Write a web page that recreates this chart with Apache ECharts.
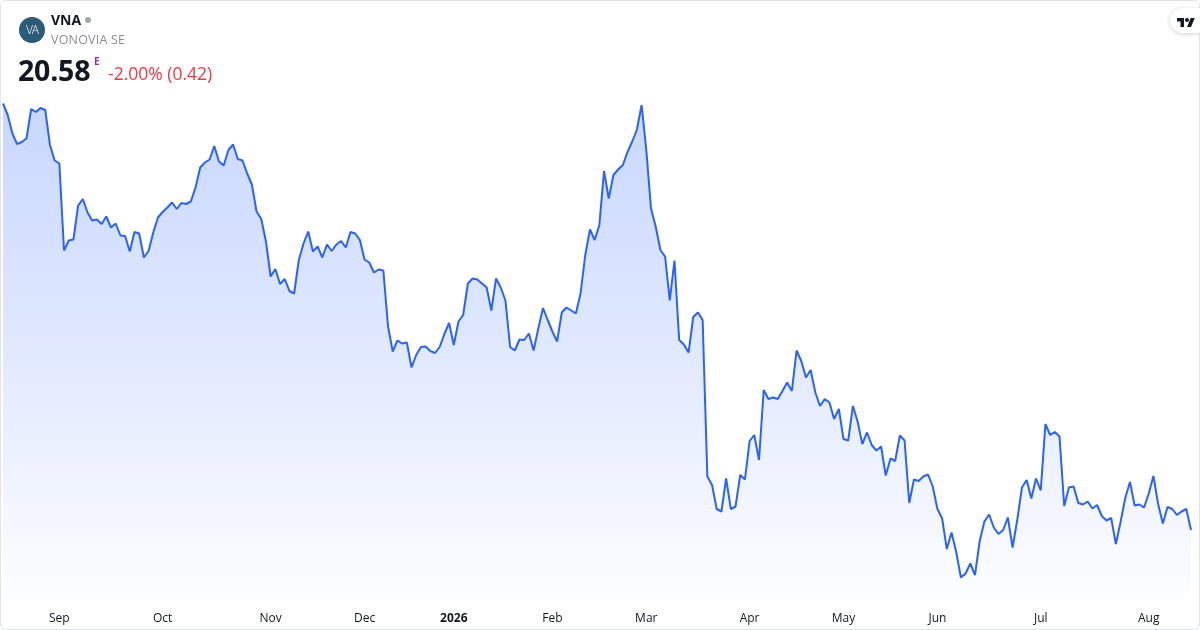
<!DOCTYPE html>
<html>
<head>
<meta charset="utf-8">
<script src="https://cdn.jsdelivr.net/npm/echarts@6/dist/echarts.min.js"></script>
<style>
  html, body { margin: 0; padding: 0; background: #ffffff; }
  #wrap { position: relative; width: 1200px; height: 630px; overflow: hidden; font-family: "Open Sans", Roboto, sans-serif; }
  #chart { position: absolute; left: 0; top: 0; width: 1200px; height: 630px; }
  #frame { position: absolute; left: 0; top: 0; width: 1198px; height: 628px; border: 1px solid #e0e3eb; border-radius: 6px; pointer-events: none; }
  .hdr { position: absolute; white-space: nowrap; }
  #logo { left: 19px; top: 17px; width: 26px; height: 26px; border-radius: 50%; background: #2c5b78; color: #fff; font-size: 12px; line-height: 26px; text-align: center; letter-spacing: -1px; font-weight: 300; }
  #sym { left: 51px; top: 10px; font-size: 14px; font-weight: 700; color: #131722; }
  #dot { left: 85px; top: 17px; width: 6px; height: 6px; border-radius: 50%; background: #a3a6af; }
  #name { left: 51px; top: 31px; font-size: 12.5px; color: #8a8d96; letter-spacing: 0.2px; }
  #price { left: 18px; top: 51px; font-size: 28.5px; font-weight: 700; color: #131722; letter-spacing: -0.2px; }
  #e { left: 94px; top: 54px; font-size: 10px; font-weight: 700; color: #9c27b0; }
  #chg { left: 108px; top: 61px; font-size: 17.5px; color: #f23645; }
  #tv { position: absolute; right: 0; top: 8px; width: 30px; height: 25px; background: #fff; border-radius: 13px 0 0 13px; box-shadow: 0 1px 4px rgba(0,0,0,0.18); }
  #tv svg { position: absolute; left: 7px; top: 8px; }
</style>
</head>
<body>
<div id="wrap">
  <div id="chart"></div>
  <div id="frame"></div>
  <div class="hdr" id="logo">VA</div>
  <div class="hdr" id="sym">VNA</div>
  <div class="hdr" id="dot"></div>
  <div class="hdr" id="name">VONOVIA SE</div>
  <div class="hdr" id="price">20.58</div>
  <div class="hdr" id="e">E</div>
  <div class="hdr" id="chg">-2.00% (0.42)</div>
  <div id="tv"><svg width="18" height="11" viewBox="0 0 36 22"><path d="M14 22H7V11H0V4h14v18zM28 22h-8l7.5-18h8L28 22z" fill="#131722"/><circle cx="20" cy="8" r="4" fill="#131722"/></svg></div>
</div>
<script>
// Trading calendar (Xetra), first session and closed days
const startDate = '2025-08-14';
const holidays = ['2025-12-24','2025-12-25','2025-12-26','2025-12-31','2026-01-01','2026-04-03','2026-04-06','2026-05-01'];

// Month tick labels (Jan shows the year)
const monthLabels = ['2026','Feb','Mar','Apr','May','Jun','Jul','Aug','Sep','Oct','Nov','Dec'];

// Daily close prices (EUR)
const closePrices = [
  29.11,28.88,28.51,28.30,28.34,28.41,29.00,28.94,29.02,28.98,
  28.28,27.97,27.91,26.17,26.37,26.39,27.07,27.20,26.93,26.77,
  26.79,26.70,26.85,26.63,26.71,26.47,26.46,26.15,26.54,26.51,
  26.03,26.16,26.53,26.83,26.94,27.03,27.13,27.00,27.12,27.10,
  27.15,27.43,27.83,27.93,27.99,28.26,27.95,27.87,28.18,28.29,
  28.00,27.97,27.71,27.49,26.95,26.80,26.35,25.65,25.80,25.50,
  25.60,25.36,25.31,25.98,26.31,26.55,26.15,26.25,26.03,26.29,
  26.16,26.29,26.36,26.23,26.54,26.51,26.38,25.99,25.93,25.73,
  25.79,25.77,24.65,24.15,24.37,24.31,24.33,23.83,24.08,24.24,
  24.25,24.16,24.12,24.24,24.50,24.72,24.28,24.75,24.88,25.51,
  25.61,25.59,25.51,25.43,24.97,25.61,25.43,25.17,24.24,24.17,
  24.39,24.38,24.51,24.17,24.61,25.02,24.78,24.55,24.35,24.93,
  25.03,24.97,24.91,25.31,26.08,26.59,26.38,26.68,27.76,27.21,
  27.68,27.79,27.88,28.14,28.35,28.59,29.08,28.18,27.01,26.65,
  26.18,26.05,25.17,25.97,24.38,24.29,24.13,24.84,24.93,24.78,
  21.65,21.48,21.00,20.95,21.61,21.00,21.05,21.68,21.59,22.36,
  22.48,21.98,23.38,23.20,23.23,23.20,23.36,23.53,23.36,24.17,
  23.96,23.63,23.78,23.33,23.06,23.20,23.13,22.80,23.00,22.40,
  22.37,23.06,22.75,22.30,22.53,22.28,22.17,22.25,21.67,22.01,
  21.96,22.47,22.37,21.12,21.59,21.56,21.65,21.69,21.45,21.00,
  20.81,20.20,20.53,20.14,19.63,19.71,19.91,19.68,20.36,20.75,
  20.89,20.63,20.50,20.58,20.83,20.23,20.78,21.43,21.58,21.21,
  21.61,21.37,22.70,22.48,22.54,22.45,21.06,21.43,21.45,21.12,
  21.09,21.15,21.01,21.08,20.86,20.77,20.82,20.30,20.74,21.22,
  21.54,21.07,21.09,21.03,21.31,21.66,21.10,20.71,21.04,21.00,
  20.88,20.95,21.00,20.58
];

// Build trading-day categories
const dates = [];
(function () {
  const d = new Date(startDate + 'T12:00:00Z');
  while (dates.length < closePrices.length) {
    const wd = d.getUTCDay();
    const s = d.toISOString().slice(0, 10);
    if (wd !== 0 && wd !== 6 && holidays.indexOf(s) < 0) dates.push(s);
    d.setUTCDate(d.getUTCDate() + 1);
  }
})();

function isMonthStart(i) {
  return i > 0 && dates[i].slice(5, 7) !== dates[i - 1].slice(5, 7);
}

const chart = echarts.init(document.getElementById('chart'), null, { renderer: 'canvas' });
chart.setOption({
  animation: false,
  backgroundColor: 'transparent',
  grid: { left: 3, right: 9, top: 90, bottom: 30 },
  xAxis: {
    type: 'category',
    data: dates,
    boundaryGap: false,
    axisLine: { show: false },
    axisTick: { show: false },
    splitLine: { show: false },
    axisLabel: {
      margin: 13,
      color: '#131722',
      fontSize: 12,
      fontFamily: 'Open Sans',
      interval: function (i) { return isMonthStart(i); },
      formatter: function (v) {
        const m = parseInt(v.slice(5, 7), 10);
        const lbl = monthLabels[(m + 11) % 12];
        return m === 1 ? '{b|' + lbl + '}' : lbl;
      },
      rich: { b: { fontWeight: 'bold', color: '#131722', fontSize: 12, fontFamily: 'Open Sans' } }
    }
  },
  yAxis: {
    type: 'value',
    min: 19.18,
    max: 29.38,
    show: false,
    splitLine: { show: false }
  },
  series: [{
    type: 'line',
    data: closePrices,
    showSymbol: false,
    symbol: 'none',
    lineStyle: { color: '#2962ff', width: 2 },
    itemStyle: { color: '#2962ff' },
    areaStyle: {
      color: new echarts.graphic.LinearGradient(0, 0, 0, 1, [
        { offset: 0, color: 'rgba(41,98,255,0.36)' },
        { offset: 0.5, color: 'rgba(41,98,255,0.20)' },
        { offset: 1, color: 'rgba(41,98,255,0.01)' }
      ])
    }
  }]
});
</script>
</body>
</html>
